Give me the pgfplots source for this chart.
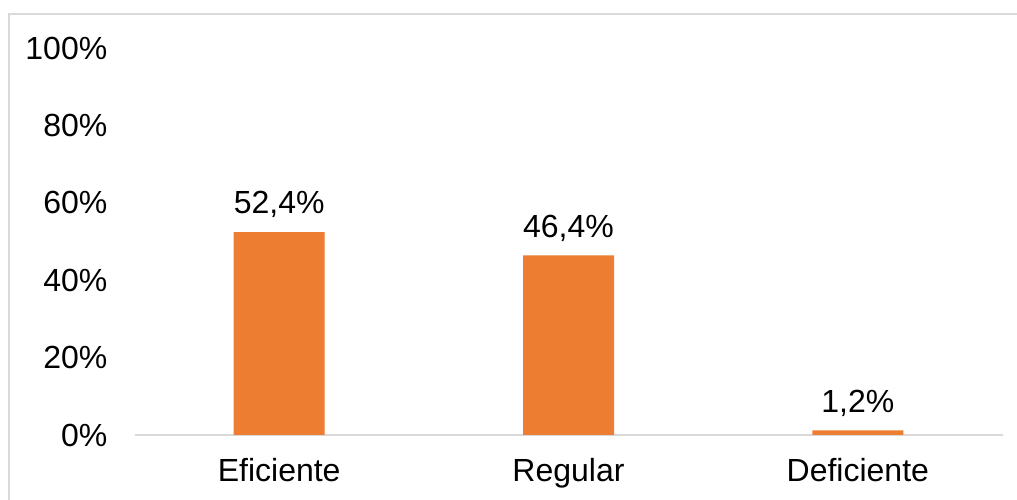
\documentclass[border=0pt]{standalone}
\usepackage{fontspec}
\setmainfont{Liberation Sans}
\usepackage{pgfplots}
\pgfplotsset{compat=1.18}
\definecolor{barorange}{HTML}{ED7D31}
\definecolor{gridgray}{HTML}{D9D9D9}
\begin{document}
\fontsize{32bp}{38bp}\selectfont
\begin{tikzpicture}[x=1bp,y=1bp]
\path[use as bounding box] (0,0) rectangle (1017,500);
\draw[gridgray, line width=2bp] (9,-20) -- (9,486) -- (1040,486);
\begin{axis}[
  at={(134.5bp,65bp)}, anchor=south west,
  width=868bp, height=387bp, scale only axis,
  xmin=-0.5, xmax=2.5, ymin=0, ymax=100,
  axis line style={draw=none},
  major tick length=0pt,
  xtick=data,
  xticklabels={Eficiente,Regular,Deficiente},
  ytick={0,20,40,60,80,100},
  yticklabel={\pgfmathprintnumber{\tick}\%},
  /pgf/number format/assume math mode=true,
  yticklabel style={anchor=east, inner sep=0pt, xshift=-27bp},
  xticklabel style={anchor=north, inner sep=0pt, yshift=-23bp},
  tick label style={font=\fontsize{32bp}{38bp}\selectfont},
  ybar, bar width=91bp,
  point meta=explicit symbolic,
  nodes near coords={\pgfplotspointmeta},
  nodes near coords style={anchor=south, inner sep=0pt, yshift=14bp, font=\fontsize{32bp}{38bp}\selectfont},
  clip=false,
]
\draw[gridgray, line width=2bp] (rel axis cs:0,0) -- (rel axis cs:1,0);
\addplot[fill=barorange, draw=none] coordinates {(0,52.4) [52,4\%] (1,46.4) [46,4\%] (2,1.2) [1,2\%]};
\end{axis}
\end{tikzpicture}
\end{document}
